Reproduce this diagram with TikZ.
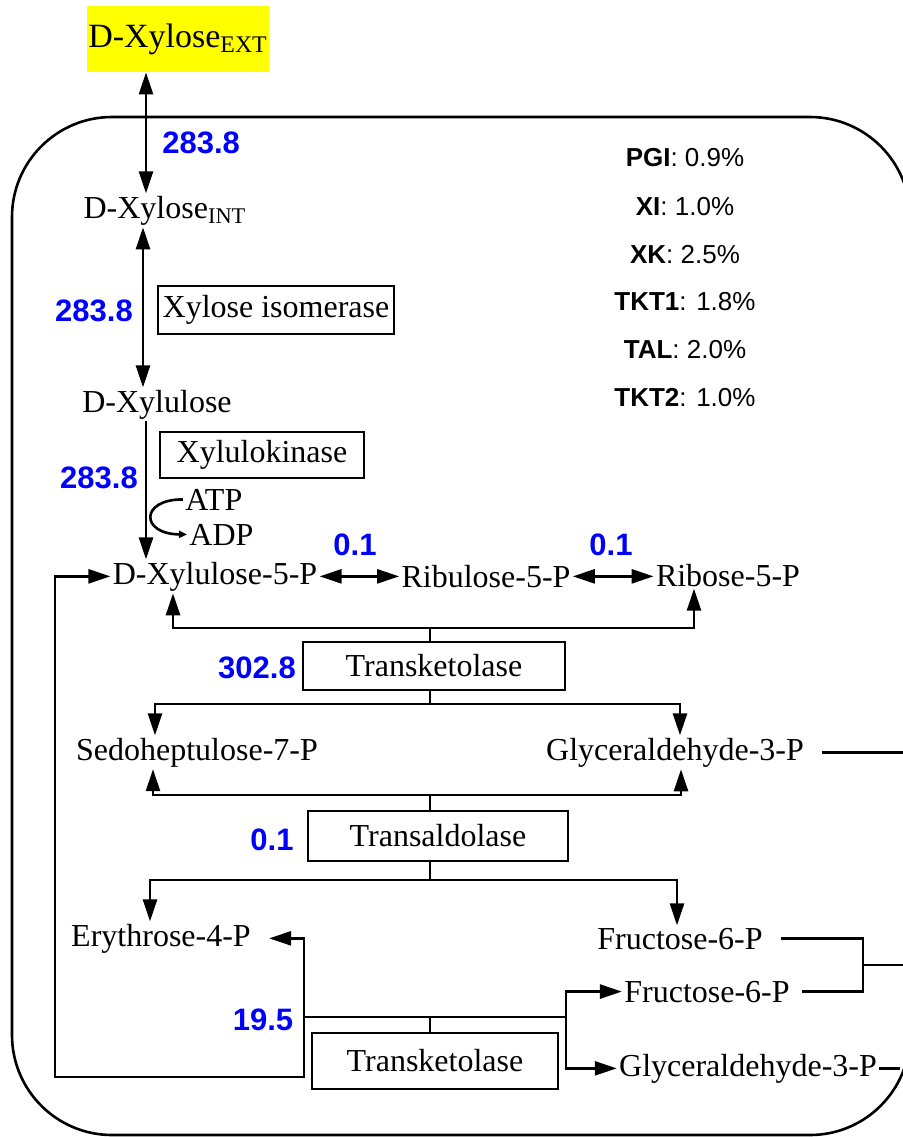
\documentclass[tikz,border=0pt]{standalone}
\usepackage{fontspec}
\setmainfont{Liberation Serif}
\setsansfont{Liberation Sans}
\usetikzlibrary{arrows.meta}

\tikzset{
	met/.style={inner sep=1pt,font=\fontsize{16}{19}\selectfont},
	enz/.style={draw,line width=1.2pt,inner sep=0pt,font=\fontsize{16}{19}\selectfont},
	flux/.style={text=fluxblue,inner sep=1pt,font=\sffamily\bfseries\fontsize{15.5}{18}\selectfont},
	pct/.style={inner sep=1pt,font=\sffamily\fontsize{13}{15}\selectfont},
	conn/.style={line width=1.3pt},
	tip/.style={conn,-{Triangle[length=11pt,width=7pt]}},
	bitip/.style={conn,{Triangle[length=11pt,width=7pt]}-{Triangle[length=11pt,width=7pt]}},
}

\begin{document}
\begin{tikzpicture}[x=0.5pt,y=-0.5pt]
		\definecolor{fluxblue}{HTML}{0000FF}
		\definecolor{extyellow}{HTML}{FFFF00}
		\useasboundingbox (0,0) rectangle (903,1137);
		\clip (0,0) rectangle (903,1137);
		
		% cell
		\draw[conn,rounded corners=50pt] (12,117) rectangle (910,1135);
		
		% metabolites
		\node[met,inner sep=0pt,fill=extyellow,minimum width=91pt,minimum height=33pt,font=\fontsize{17}{20}\selectfont] (ext) at (178,39) {D-Xylose\textsubscript{EXT}};
		\node[met,anchor=base] (int) at (165,218) {D-Xylose\textsubscript{INT}};
		\node[met,anchor=base] (xul) at (157,412) {D-Xylulose};
		\node[met,anchor=base] (x5p) at (215,584) {D-Xylulose-5-P};
		\node[met,anchor=base] (ru5p) at (486,587) {Ribulose-5-P};
		\node[met,anchor=base] (r5p) at (728,586) {Ribose-5-P};
		\node[met,anchor=base] (s7p) at (197,760) {Sedoheptulose-7-P};
		\node[met,anchor=base] (gap1) at (675,760) {Glyceraldehyde-3-P};
		\node[met,anchor=base] (e4p) at (161,946) {Erythrose-4-P};
		\node[met,anchor=base] (f6pa) at (680,949) {Fructose-6-P};
		\node[met,anchor=base] (f6pb) at (707,1002) {Fructose-6-P};
		\node[met,anchor=base] (gap2) at (748,1076) {Glyceraldehyde-3-P};
		\node[met,anchor=base west] (atp) at (183,510) {ATP};
		\node[met,anchor=base west] (adp) at (187,545) {ADP};
		
		% enzymes
		\node[enz,minimum width=118pt,minimum height=24pt] (xi) at (276,310) {Xylose isomerase};
		\node[enz,minimum width=102pt,minimum height=23pt] (xk) at (262,455) {Xylulokinase};
		\node[enz,minimum width=131pt,minimum height=24pt] (tkt1) at (434,666) {Transketolase};
		\node[enz,minimum width=130pt,minimum height=25pt] (tal) at (438,836) {Transaldolase};
		\node[enz,minimum width=123pt,minimum height=28pt] (tkt2) at (435,1061) {Transketolase};
		
		% fluxes
		\node[flux,anchor=west] (v1) at (160,143) {283.8};
		\node[flux] (v2) at (94,311) {283.8};
		\node[flux] (v3) at (99,478) {283.8};
		\node[flux] (v4) at (355,545) {0.1};
		\node[flux] (v5) at (611,545) {0.1};
		\node[flux] (v6) at (257,668) {302.8};
		\node[flux] (v7) at (272,840) {0.1};
		\node[flux] (v8) at (263,1020) {19.5};
		
		% changes
		\node[pct] (pgi) at (685,158) {\textbf{PGI}: 0.9\%};
		\node[pct] (xiv) at (685,207) {\textbf{XI}: 1.0\%};
		\node[pct] (xkv) at (685,255) {\textbf{XK}: 2.5\%};
		\node[pct] (tk1v) at (685,302) {\textbf{TKT1}: 1.8\%};
		\node[pct] (talv) at (685,350) {\textbf{TAL}: 2.0\%};
		\node[pct] (tk2v) at (685,398) {\textbf{TKT2}: 1.0\%};
		
		% junctions
		\coordinate (j1) at (430,628);
		\coordinate (j2) at (430,704);
		\coordinate (j3) at (430,795);
		\coordinate (j4) at (430,880);
		\coordinate (j5) at (430,1017);
		\coordinate (brk) at (863,965);
		\coordinate (gapout) at (gap1.east -| 910,0);
		
		% uptake and xylose branch
		\draw[bitip] (ext.south -| 146,0) -- (int.north -| 146,0);
		\draw[bitip] (int.south -| 143,0) -- (xul.north -| 143,0);
		\draw[tip] (xul.south -| 146,0) -- (x5p.north -| 146,0);
		\draw[conn,-{Triangle[length=4pt,width=3.5pt]}] (atp.west) .. controls (140,499) and (140,534) .. (adp.west);
		\draw[bitip] (x5p.east) -- (ru5p.west |- x5p.east);
		\draw[bitip] (ru5p.east |- x5p.east) -- (r5p.west |- x5p.east);
		
		% transketolase 1
		\draw[conn] (tkt1.north -| j1) -- (j1);
		\draw[tip] (j1) -| (x5p.south -| 173,0);
		\draw[tip] (j1) -| (r5p.south -| 694,0);
		\draw[conn] (tkt1.south -| j2) -- (j2);
		\draw[tip] (j2) -| (s7p.north -| 155,0);
		\draw[tip] (j2) -| (gap1.north -| 680,0);
		
		% transaldolase
		\draw[conn] (tal.north -| j3) -- (j3);
		\draw[tip] (j3) -| (s7p.south -| 153,0);
		\draw[tip] (j3) -| (gap1.south -| 681,0);
		\draw[conn] (tal.south -| j4) -- (j4);
		\draw[tip] (j4) -| (e4p.north -| 150,0);
		\draw[tip] (j4) -| (f6pa.north -| 677,0);
		
		% transketolase 2
		\draw[conn] (tkt2.north -| j5) -- (j5);
		\draw[tip,shorten >=8pt] (j5) -| (e4p.east -| 304,0) -- (e4p.east);
		\draw[tip] (j5) -| (304,1077) -| (x5p.west -| 55,0) -- (x5p.west);
		\draw[tip] (j5) -| (f6pb.west -| 566,0) -- (f6pb.west);
		\draw[tip] (j5) -| (gap2.west -| 566,0) -- (gap2.west);
		
		% to glycolysis
		\draw[conn] ([xshift=8pt]gap1.east) -- (gapout);
		\draw[conn] ([xshift=8pt]f6pa.east) -| (brk) |- ([xshift=5pt]f6pb.east);
		\draw[conn] (brk) -- (brk -| 910,0);
		\draw[conn] (gap2.east) -- (gap2.east -| 900,0);
\end{tikzpicture}
\end{document}
